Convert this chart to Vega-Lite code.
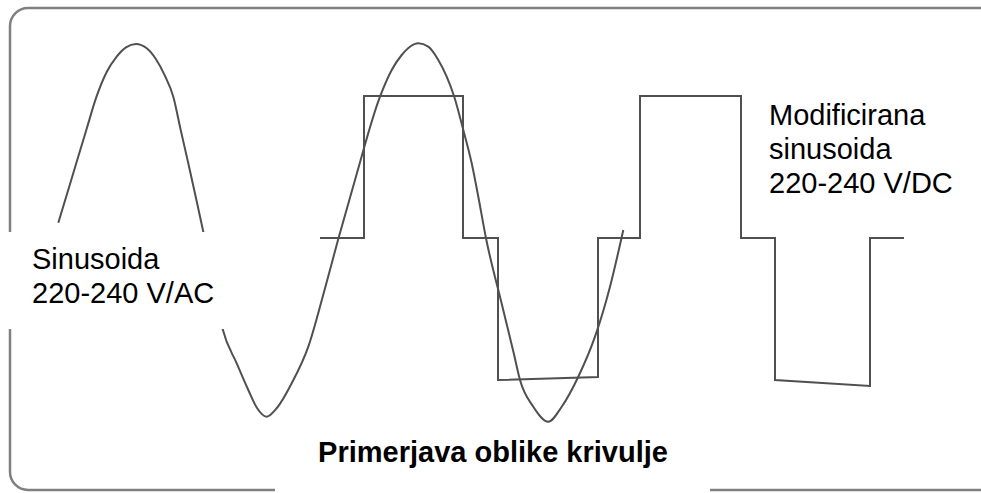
{
  "$schema": "https://vega.github.io/schema/vega-lite/v6.json",
  "width": 981,
  "height": 493,
  "autosize": {"type": "none"},
  "padding": 0,
  "background": "white",
  "config": {"view": {"stroke": null}},
  "datasets": {
    "sine": [
      {"t": 58.3, "v": 7.3}, {"t": 69.2, "v": 43.3}, {"t": 86.3, "v": 100}, {"t": 96.5, "v": 133.3},
      {"t": 106.7, "v": 158}, {"t": 116.7, "v": 173.4}, {"t": 126, "v": 182.6}, {"t": 136, "v": 186},
      {"t": 146.7, "v": 181.7}, {"t": 156, "v": 170.8}, {"t": 165, "v": 154.1}, {"t": 173.3, "v": 133.3},
      {"t": 180.7, "v": 100}, {"t": 188.3, "v": 66.7}, {"t": 195.7, "v": 33.3}, {"t": 203.3, "v": -1.7},
      {"t": 213, "v": -50}, {"t": 222.7, "v": -99.3}, {"t": 236.7, "v": -133.3}, {"t": 248.3, "v": -160},
      {"t": 256.7, "v": -177.5}, {"t": 266.7, "v": -186.7}, {"t": 277.3, "v": -177.5}, {"t": 291.7, "v": -153.3},
      {"t": 308.3, "v": -116.7}, {"t": 324, "v": -62}, {"t": 338, "v": -10}, {"t": 355, "v": 50},
      {"t": 380, "v": 133.3}, {"t": 391.7, "v": 160}, {"t": 401.7, "v": 175}, {"t": 410, "v": 183.3},
      {"t": 418.3, "v": 186.7}, {"t": 428.3, "v": 183.3}, {"t": 438.3, "v": 170}, {"t": 446.7, "v": 153.3},
      {"t": 454, "v": 134}, {"t": 463.3, "v": 100}, {"t": 471.7, "v": 66.7}, {"t": 478.3, "v": 33.3},
      {"t": 486, "v": -8.3}, {"t": 500.8, "v": -70}, {"t": 513.7, "v": -123}, {"t": 520, "v": -150},
      {"t": 533.3, "v": -176.7}, {"t": 548.3, "v": -191.7}, {"t": 561.7, "v": -176.7}, {"t": 578.3, "v": -146.7},
      {"t": 595, "v": -106.7}, {"t": 610, "v": -56.7}, {"t": 623.3, "v": 0}
    ],
    "step": [
      {"i": 1, "t": 320, "v": -8}, {"i": 2, "t": 364, "v": -8}, {"i": 3, "t": 364, "v": 134},
      {"i": 4, "t": 463, "v": 134}, {"i": 5, "t": 463, "v": -8}, {"i": 6, "t": 498, "v": -8},
      {"i": 7, "t": 498, "v": -150}, {"i": 8, "t": 598, "v": -147}, {"i": 9, "t": 598, "v": -8},
      {"i": 10, "t": 640, "v": -8}, {"i": 11, "t": 640, "v": 134}, {"i": 12, "t": 741, "v": 134},
      {"i": 13, "t": 741, "v": -8}, {"i": 14, "t": 775, "v": -8}, {"i": 15, "t": 775, "v": -150},
      {"i": 16, "t": 870, "v": -156}, {"i": 17, "t": 870, "v": -8}, {"i": 18, "t": 904, "v": -8}
    ]
  },
  "layer": [
    {
      "data": {"values": [{}]},
      "mark": {"type": "rect", "filled": false, "stroke": "#808080", "strokeWidth": 2.5, "cornerRadius": 18},
      "encoding": {
        "x": {"datum": 10, "type": "quantitative", "scale": {"domain": [0, 981], "nice": false, "zero": false}, "axis": null},
        "x2": {"datum": 1100},
        "y": {"datum": 222, "type": "quantitative", "scale": {"domain": [-263, 230], "nice": false, "zero": false}, "axis": null},
        "y2": {"datum": -260}
      }
    },
    {
      "data": {"name": "sine"},
      "mark": {"type": "line", "color": "#505050", "strokeWidth": 2, "interpolate": "monotone"},
      "encoding": {
        "x": {"field": "t", "type": "quantitative", "scale": {"domain": [0, 981], "nice": false, "zero": false}, "axis": null},
        "y": {"field": "v", "type": "quantitative", "scale": {"domain": [-263, 230], "nice": false, "zero": false}, "axis": null}
      }
    },
    {
      "data": {"name": "step"},
      "mark": {"type": "line", "color": "#505050", "strokeWidth": 2},
      "encoding": {
        "x": {"field": "t", "type": "quantitative", "scale": {"domain": [0, 981], "nice": false, "zero": false}, "axis": null},
        "y": {"field": "v", "type": "quantitative", "scale": {"domain": [-263, 230], "nice": false, "zero": false}, "axis": null},
        "order": {"field": "i", "type": "quantitative"}
      }
    },
    {
      "data": {"values": [{}]},
      "mark": {"type": "rect", "fill": "white", "stroke": null},
      "encoding": {
        "x": {"datum": 969, "type": "quantitative"},
        "x2": {"datum": 1110},
        "y": {"datum": 207, "type": "quantitative"},
        "y2": {"datum": -256}
      }
    },
    {
      "data": {"values": [{}]},
      "mark": {"type": "rect", "fill": "white", "stroke": null},
      "encoding": {
        "x": {"datum": 4, "type": "quantitative"},
        "x2": {"datum": 224},
        "y": {"datum": -2, "type": "quantitative"},
        "y2": {"datum": -99}
      }
    },
    {
      "data": {"values": [{}]},
      "mark": {"type": "rect", "fill": "white", "stroke": null},
      "encoding": {
        "x": {"datum": 275, "type": "quantitative"},
        "x2": {"datum": 710},
        "y": {"datum": -200, "type": "quantitative"},
        "y2": {"datum": -270}
      }
    },
    {
      "data": {"values": [{}]},
      "mark": {"type": "text", "text": ["Sinusoida", "220-240 V/AC"], "align": "left", "baseline": "alphabetic", "font": "Liberation Sans", "fontSize": 29, "lineHeight": 34, "color": "#000000"},
      "encoding": {
        "x": {"datum": 32, "type": "quantitative"},
        "y": {"datum": -39, "type": "quantitative"}
      }
    },
    {
      "data": {"values": [{}]},
      "mark": {"type": "text", "text": ["Modificirana", "sinusoida", "220-240 V/DC"], "align": "left", "baseline": "alphabetic", "font": "Liberation Sans", "fontSize": 29, "lineHeight": 34, "color": "#000000"},
      "encoding": {
        "x": {"datum": 769, "type": "quantitative"},
        "y": {"datum": 105, "type": "quantitative"}
      }
    },
    {
      "data": {"values": [{}]},
      "mark": {"type": "text", "text": "Primerjava oblike krivulje", "align": "center", "baseline": "alphabetic", "font": "Liberation Sans", "fontSize": 29, "fontWeight": "bold", "color": "#000000"},
      "encoding": {
        "x": {"datum": 493, "type": "quantitative"},
        "y": {"datum": -232, "type": "quantitative"}
      }
    }
  ]
}
